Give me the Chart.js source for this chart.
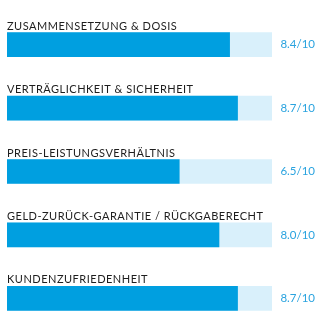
<!DOCTYPE html>
<html>
<head>
<meta charset="utf-8">
<script src="https://cdn.jsdelivr.net/npm/chart.js@4"></script>
<style>
  html, body { margin: 0; padding: 0; background: #fff; }
  #wrap { width: 322px; height: 331px; }
</style>
</head>
<body>
<div id="wrap"><canvas id="scoreChart" width="322" height="331"></canvas></div>
<script>
// Kategorien und Bewertungen
const categories = [
  'ZUSAMMENSETZUNG & DOSIS',
  'VERTRÄGLICHKEIT & SICHERHEIT',
  'PREIS-LEISTUNGSVERHÄLTNIS',
  'GELD-ZURÜCK-GARANTIE / RÜCKGABERECHT',
  'KUNDENZUFRIEDENHEIT'
];
const scores = [8.4, 8.7, 6.5, 8.0, 8.7];
const maxScore = 10;
const trackValues = categories.map(() => maxScore);

const FILL = '#009fe0';
const TRACK = '#d9f0fb';

// Beschriftungen über den Balken + Werte rechts
const labelPlugin = {
  id: 'barLabels',
  afterDatasetsDraw(chart) {
    const { ctx, chartArea } = chart;
    const meta = chart.getDatasetMeta(1);
    ctx.save();
    meta.data.forEach((bar, i) => {
      const top = bar.y - bar.height / 2;
      ctx.font = '11px Lato, sans-serif';
      ctx.letterSpacing = '0.5px';
      ctx.fillStyle = '#1e1e1e';
      ctx.textAlign = 'left';
      ctx.textBaseline = 'alphabetic';
      ctx.fillText(categories[i], chartArea.left, top - 3);

      ctx.font = '11.5px Lato, sans-serif';
      ctx.letterSpacing = '0px';
      ctx.fillStyle = '#2aa3df';
      ctx.textAlign = 'right';
      ctx.textBaseline = 'middle';
      ctx.fillText(scores[i].toFixed(1) + '/' + maxScore, 315, bar.y);
    });
    ctx.restore();
  }
};

new Chart(document.getElementById('scoreChart'), {
  type: 'bar',
  data: {
    labels: categories,
    datasets: [
      { data: trackValues, backgroundColor: TRACK, barThickness: 24, grouped: false, order: 2 },
      { data: scores, backgroundColor: FILL, barThickness: 24, grouped: false, order: 1 }
    ]
  },
  options: {
    indexAxis: 'y',
    responsive: false,
    animation: false,
    layout: { padding: { left: 7, right: 50, top: 13, bottom: 1 } },
    plugins: { legend: { display: false }, tooltip: { enabled: false } },
    scales: {
      x: { display: false, min: 0, max: maxScore },
      y: { display: false }
    }
  },
  plugins: [labelPlugin]
});
</script>
</body>
</html>
